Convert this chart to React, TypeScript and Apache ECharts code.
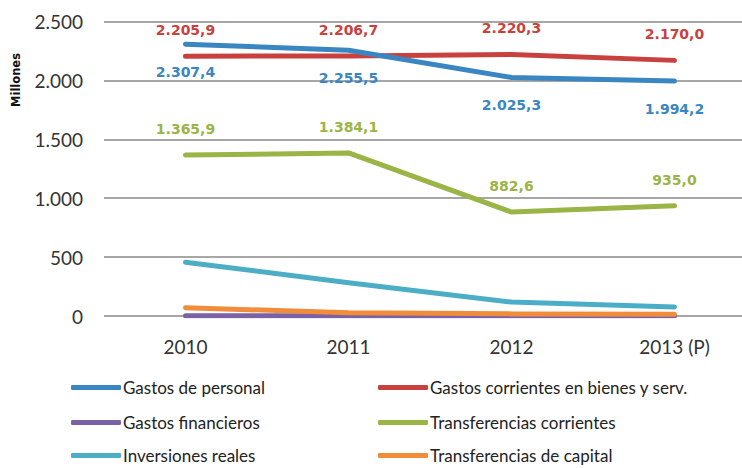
import React, { useEffect, useRef } from "react";
import * as echarts from "echarts";

const categories = ["2010", "2011", "2012", "2013 (P)"];
const seriesNames = [
  "Gastos de personal",
  "Gastos corrientes en bienes y serv.",
  "Gastos financieros",
  "Transferencias corrientes",
  "Inversiones reales",
  "Transferencias de capital",
];
const gastosPersonal = [2307.4, 2255.5, 2025.3, 1994.2];
const gastosCorrientes = [2205.9, 2206.7, 2220.3, 2170.0];
const gastosFinancieros = [2, 2, 2, 2];
const transferenciasCorrientes = [1365.9, 1384.1, 882.6, 935.0];
const inversionesReales = [457, 282, 118, 77];
const transferenciasCapital = [70, 28, 18, 15];
const yTicks = [0, 500, 1000, 1500, 2000, 2500];

const colors = ["#3A86C2", "#C9413E", "#7B62A6", "#9BB446", "#4BAEC6", "#F18C3B"];

function thousands(intStr: string): string {
  return intStr.replace(/\B(?=(\d{3})+(?!\d))/g, ".");
}
function fmt1(v: number): string {
  const [i, d] = v.toFixed(1).split(".");
  return thousands(i) + "," + d;
}

export default function App() {
  const ref = useRef<HTMLDivElement>(null);
  useEffect(() => {
    if (!ref.current) return;
    const chart = echarts.init(ref.current, undefined, { renderer: "svg" });
    const dataSets = [
      gastosPersonal,
      gastosCorrientes,
      gastosFinancieros,
      transferenciasCorrientes,
      inversionesReales,
      transferenciasCapital,
    ];
    const labelCfg: Record<number, any> = {
      0: { show: true, position: "bottom", distance: 21 },
      1: { show: true, position: "top", distance: 19 },
      3: { show: true, position: "top", distance: 19 },
    };
    const series = seriesNames.map((name, i) => ({
      name,
      type: "line",
      data: dataSets[i],
      symbol: "circle",
      symbolSize: 0.1,
      showSymbol: true,
      z: i === 0 ? 3 : 2,
      lineStyle: { width: 5, color: colors[i], cap: "round", join: "round" },
      itemStyle: { color: colors[i] },
      label: labelCfg[i]
        ? {
            ...labelCfg[i],
            formatter: (p: any) => fmt1(p.value),
            color: colors[i],
            fontFamily: "DejaVu Sans",
            fontWeight: "bold",
            fontSize: 14,
          }
        : { show: false },
      emphasis: { disabled: true },
    }));
    const legendRowsTop = [379, 414, 447];
    const legends = seriesNames.map((name, i) => ({
      data: [name],
      left: i % 2 === 0 ? 71 : 378,
      top: legendRowsTop[Math.floor(i / 2)],
      padding: 0,
      icon: "roundRect",
      itemWidth: 50,
      itemHeight: 5,
      selectedMode: false,
      textStyle: { fontFamily: "Lato", fontSize: 17, color: "#222", padding: [0, 0, 0, -3] },
    }));
    chart.setOption({
      animation: false,
      color: colors,
      grid: { left: 104, right: 0, top: 21.5, bottom: 152, containLabel: false },
      legend: legends,
      xAxis: {
        type: "category",
        data: categories,
        boundaryGap: true,
        axisLine: { show: false },
        axisTick: { show: false },
        axisLabel: { fontFamily: "Lato", fontSize: 19, color: "#333", margin: 21 },
      },
      yAxis: {
        type: "value",
        min: yTicks[0],
        max: yTicks[yTicks.length - 1],
        interval: 500,
        axisLine: { show: false },
        axisTick: { show: false },
        splitLine: { lineStyle: { color: "#A6A6A6", width: 2 } },
        axisLabel: {
          fontFamily: "Lato",
          fontSize: 19,
          color: "#333",
          margin: 21,
          formatter: (v: number) => thousands(String(v)),
        },
      },
      graphic: [
        {
          type: "text",
          x: 16,
          y: 80,
          rotation: Math.PI / 2,
          style: {
            text: "Millones",
            fontFamily: "DejaVu Sans",
            fontWeight: "bold",
            fontSize: 11.5,
            fill: "#111",
            align: "center",
            verticalAlign: "middle",
          },
        },
      ],
      series,
    });
    return () => chart.dispose();
  }, []);
  return (
    <div
      style={{
        position: "fixed",
        left: 0,
        top: 0,
        width: 742,
        height: 468,
        overflow: "hidden",
        background: "#fff",
      }}
    >
      <div ref={ref} style={{ width: 756, height: 468 }} />
    </div>
  );
}
